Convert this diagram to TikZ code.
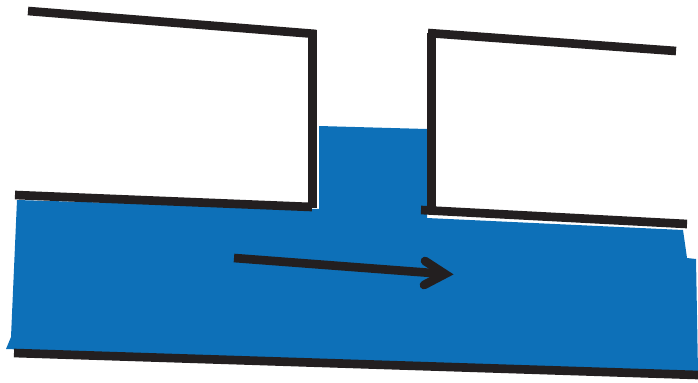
\documentclass[tikz,border=0pt]{standalone}
\usepackage{tikz}
\usepackage{xcolor}
\definecolor{flowblue}{RGB}{13,112,184}
\definecolor{wallblack}{RGB}{35,31,32}
\tikzset{
    wall/.style={draw=wallblack, line width=6.5pt, line cap=butt},
    flowarrow/.style={draw=wallblack, line width=6.5pt, line cap=round}
}

\begin{document}
\begin{tikzpicture}[x=0.75pt, y=-0.75pt]
    \useasboundingbox (0,0) rectangle (698,382);

    % Fluid
    \fill[flowblue] (17,200) -- (319,209) -- (319,126) -- (427,129) -- (427,218)
        -- (683,230) -- (687,258) -- (696,259) -- (698,373) -- (6,349) -- (11,337) -- cycle;

    % Left box
    \coordinate (lefttop) at (28,11);
    \coordinate (leftcorner) at (316,34);
    \coordinate (leftbend) at (312.5,30);
    \coordinate (leftfoot) at (312.5,208);
    \coordinate (leftlow) at (15,195);
    \coordinate (leftend) at (312,207);
    \draw[wall] (lefttop) -- (leftcorner);
    \draw[wall] (leftbend) -- (leftfoot);
    \draw[wall] (leftlow) -- (leftend);

    % Right box
    \coordinate (righttop) at (428,33);
    \coordinate (rightend) at (676,51);
    \coordinate (rightbend) at (431.5,33);
    \coordinate (rightfoot) at (431.5,212);
    \coordinate (rightlow) at (421,210);
    \coordinate (rightout) at (687,224);
    \draw[wall] (righttop) -- (rightend);
    \draw[wall] (rightbend) -- (rightfoot);
    \draw[wall] (rightlow) -- (rightout);

    % Bottom
    \coordinate (bottomleft) at (14,353);
    \coordinate (bottomright) at (698,375);
    \draw[wall] (bottomleft) -- (bottomright);

    % Arrow
    \coordinate (arrowtail) at (234,258);
    \coordinate (arrowtip) at (445,274);
    \coordinate (headup) at (425,261);
    \coordinate (headdown) at (424,285);
    \draw[wall] (arrowtail) -- (arrowtip);
    \draw[flowarrow, miter limit=10] (headup) -- (arrowtip) -- (headdown);
\end{tikzpicture}
\end{document}
